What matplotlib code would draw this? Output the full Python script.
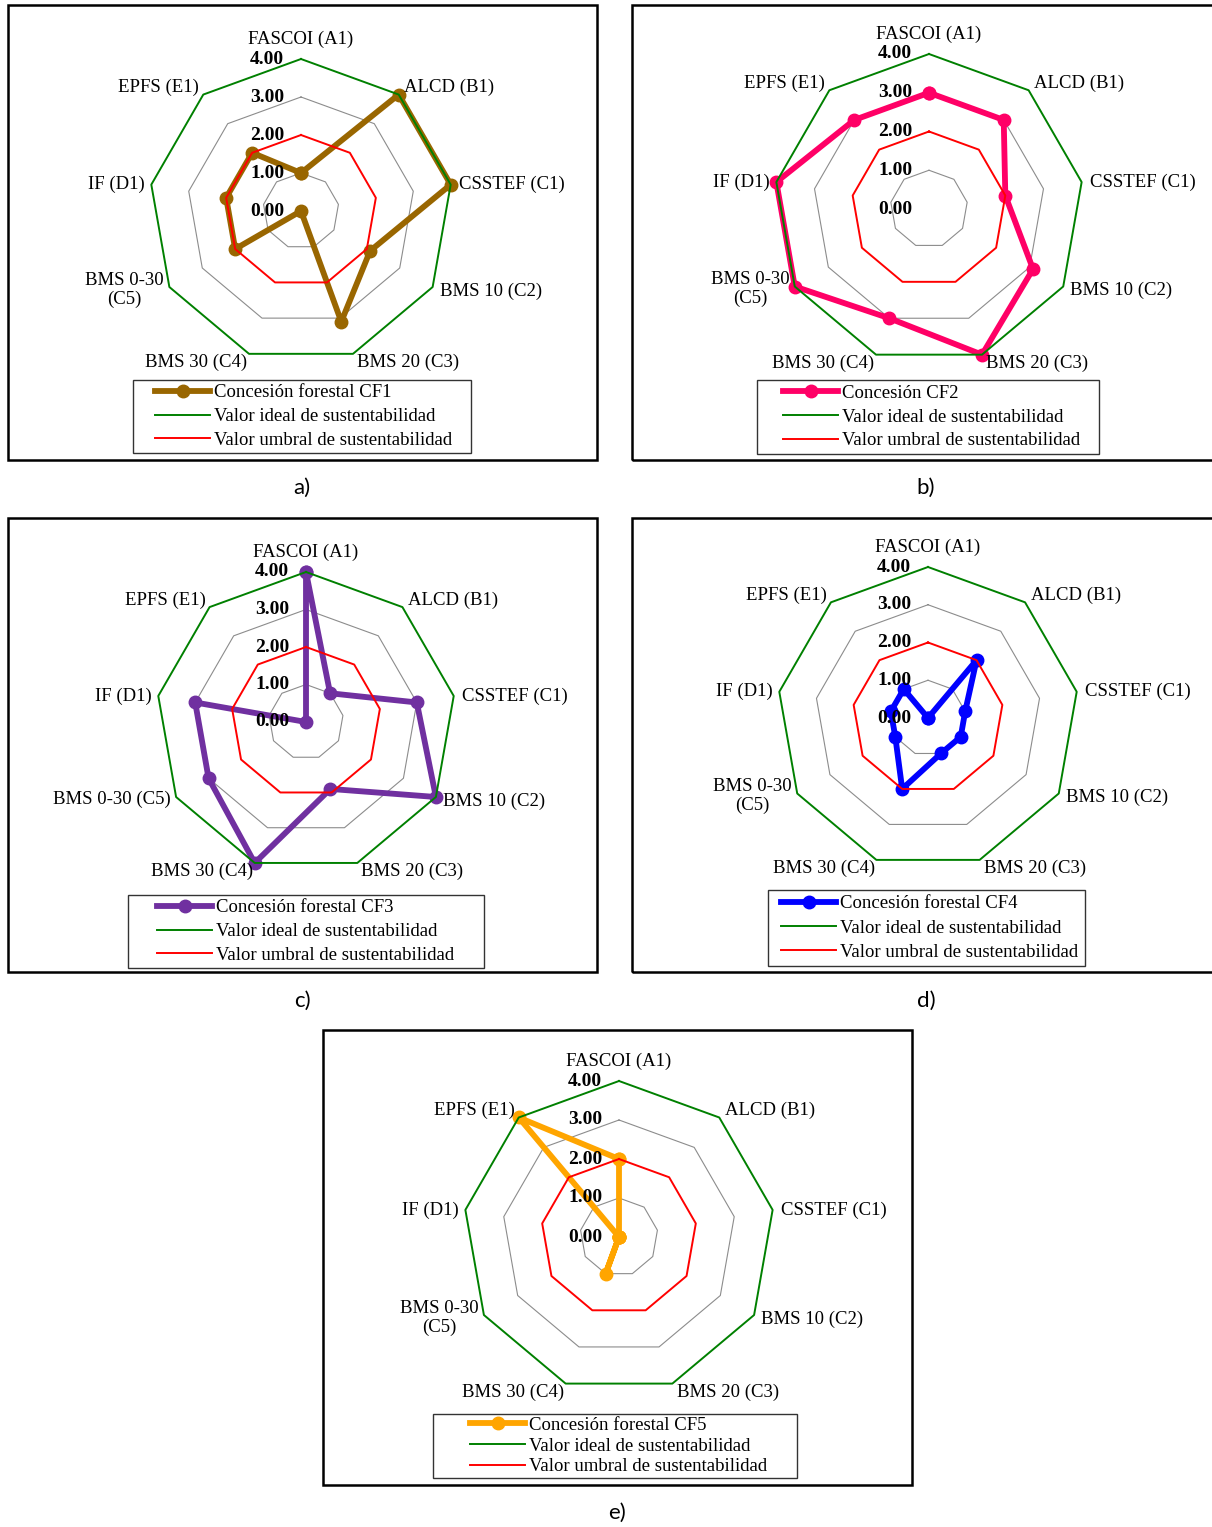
import numpy as np
import matplotlib
matplotlib.use("Agg")
import matplotlib.pyplot as plt
from matplotlib.patches import Rectangle
from matplotlib.lines import Line2D

plt.rcParams['font.family'] = ['Liberation Serif', 'DejaVu Serif']

# axis names, clockwise from the top
categories = ["FASCOI (A1)", "ALCD (B1)", "CSSTEF (C1)", "BMS 10 (C2)", "BMS 20 (C3)",
              "BMS 30 (C4)", "BMS 0-30\n(C5)", "IF (D1)", "EPFS (E1)"]
categories_c = categories[:6] + ["BMS 0-30 (C5)"] + categories[7:]

cf1 = [1.0, 4.0, 4.0, 2.1, 3.1, 0.0, 2.0, 2.0, 2.0]
cf2 = [3.0, 3.0, 2.0, 3.1, 4.0, 3.0, 4.0, 4.0, 3.0]
cf3 = [4.0, 1.0, 3.0, 4.0, 1.9, 4.0, 3.0, 3.0, 0.0]
cf4 = [0.0, 2.0, 1.0, 1.0, 1.0, 2.0, 1.0, 1.0, 1.0]
cf5 = [2.0, 0.0, 0.0, 0.0, 0.0, 1.0, 0.0, 0.0, 4.0]

ideal = [4.0] * 9
umbral = [2.0] * 9
grid_levels = [1.0, 3.0]
tick_values = [0.0, 1.0, 2.0, 3.0, 4.0]

series_labels = ["Concesión forestal CF1", "Concesión CF2", "Concesión forestal CF3",
                 "Concesión forestal CF4", "Concesión forestal CF5"]
captions = ["a)", "b)", "c)", "d)", "e)"]

W, H = 1212, 1527
fig = plt.figure(figsize=(W / 100, H / 100), dpi=100)

# panel layout in pixels: centre, radius of the 4.00 ring, outer box,
# legend box, x where legend handles start, legend row spacing, caption
panels = [
    dict(data=cf1, color="#996600", c=(301, 211), R=152, box=(8, 5, 597, 460),
         leg=(133, 380, 471, 453), hx=155, sp=0.36, cap=(302, 488), cats=categories),
    dict(data=cf2, color="#FF0066", c=(929, 209), R=155, box=(632, 5, 1216, 460),
         leg=(757, 380, 1099, 454), hx=783, sp=0.36, cap=(926, 488), cats=categories),
    dict(data=cf3, color="#7030A0", c=(306, 722), R=150, box=(8, 518, 597, 972),
         leg=(128, 895, 484, 968), hx=157, sp=0.36, cap=(302, 1001), cats=categories_c),
    dict(data=cf4, color="#0000FF", c=(928, 718), R=151, box=(632, 518, 1216, 972),
         leg=(768, 890, 1085, 966), hx=781, sp=0.38, cap=(926, 1001), cats=categories),
    dict(data=cf5, color="#FFA500", c=(619, 1237), R=156, box=(323, 1030, 912, 1485),
         leg=(433, 1414, 797, 1478), hx=470, sp=0.2, cap=(617, 1513), cats=categories),
]

# label offsets (points) and alignment for each spoke
label_pos = [((0, 8), "center", "bottom"), ((4, 5), "left", "center"),
             ((6, 0), "left", "center"), ((5, -3), "left", "center"),
             ((3, -6), "left", "center"), ((-1, -6), "right", "center"),
             ((-4, -2), "right", "center"), ((-5, 0), "right", "center"),
             ((-3, 5), "right", "center")]

theta = np.deg2rad(np.arange(9) * 40)
theta_c = np.append(theta, theta[0])


def closed(v):
    return list(v) + [v[0]]


def fig_rect(x0, y0, x1, y1, **kw):
    return Rectangle((x0 / W, 1 - y1 / H), (x1 - x0) / W, (y1 - y0) / H,
                     transform=fig.transFigure, **kw)


for i, p in enumerate(panels):
    fig.patches.append(fig_rect(*p["box"], fill=False, edgecolor="black", linewidth=1.8))
    cx, cy = p["c"]
    R = p["R"]
    ax = fig.add_axes([(cx - R) / W, 1 - (cy + R) / H, 2 * R / W, 2 * R / H],
                      projection="polar")
    ax.set_theta_zero_location("N")
    ax.set_theta_direction(-1)
    ax.set_ylim(0, 4)
    ax.grid(False)
    ax.spines["polar"].set_visible(False)
    ax.set_xticks([])
    ax.set_yticks([])
    ax.patch.set_alpha(0)

    for g in grid_levels:
        ax.plot(theta_c, [g] * 10, color="#8c8c8c", lw=0.8, zorder=1)
    ax.plot(theta_c, closed(p["data"]), color=p["color"], lw=4.2, marker="o",
            ms=9, zorder=2, clip_on=False)
    ax.plot(theta_c, closed(ideal), color="#008000", lw=1.4, zorder=3, clip_on=False)
    ax.plot(theta_c, closed(umbral), color="#FF0000", lw=1.4, zorder=4)

    for t in tick_values:
        ax.annotate(f"{t:.2f}", xy=(0, t), xytext=(-12, 0), textcoords="offset points",
                    ha="right", va="center", fontsize=14, fontweight="bold",
                    annotation_clip=False, zorder=5)

    for k, name in enumerate(p["cats"]):
        off, ha, va = label_pos[k]
        ax.annotate(name, xy=(theta[k], 4), xytext=off, textcoords="offset points",
                    ha=ha, va=va, multialignment="center", fontsize=13.5,
                    annotation_clip=False, linespacing=1.1)

    # legend: frame drawn separately (behind the axes), entries placed inside it
    lx0, ly0, lx1, ly1 = p["leg"]
    fig.patches.append(fig_rect(lx0, ly0, lx1, ly1, facecolor="white",
                                edgecolor="#333333", linewidth=1.0, zorder=-1))
    handles = [Line2D([], [], color=p["color"], lw=4.2, marker="o", ms=9),
               Line2D([], [], color="#008000", lw=1.4),
               Line2D([], [], color="#FF0000", lw=1.4)]
    ax.legend(handles, [series_labels[i], "Valor ideal de sustentabilidad",
                        "Valor umbral de sustentabilidad"],
              loc="center left", bbox_to_anchor=(p["hx"] / W, 1 - (ly0 + ly1) / 2 / H),
              bbox_transform=fig.transFigure, fontsize=13.5, frameon=False,
              handlelength=2.95, handletextpad=0.2, labelspacing=p["sp"],
              borderpad=0, borderaxespad=0, numpoints=1)

    capx, capy = p["cap"]
    fig.text(capx / W, 1 - capy / H, captions[i], ha="center", va="center",
             fontsize=16, family="Lato")

fig.savefig("out.png", dpi=100)
